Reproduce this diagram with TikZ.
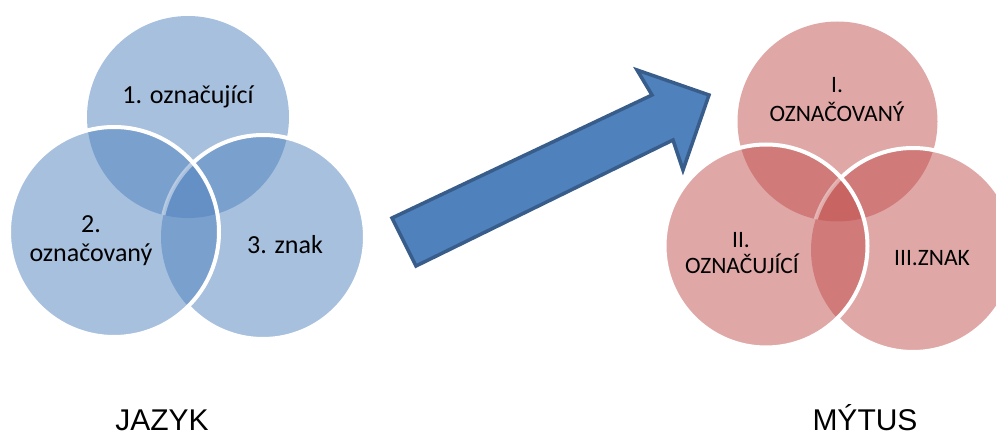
\documentclass[tikz,border=0pt]{standalone}
\usepackage{fontspec}
\setmainfont{Carlito}
\newfontfamily\arialfont{Liberation Sans}
\definecolor{venblue}{HTML}{4F81BD}
\definecolor{venred}{HTML}{C0504D}
\definecolor{arrowline}{HTML}{385D8A}
\begin{document}
\begin{tikzpicture}[x=1pt,y=-1pt,
  lbl/.style={font=\fontsize{26}{30}\selectfont, anchor=base, inner sep=0pt},
  lblr/.style={font=\fontsize{23.5}{28}\selectfont, anchor=base, inner sep=0pt},
  titletext/.style={font=\arialfont\fontsize{30}{34}\selectfont, anchor=base, inner sep=0pt},
  vfill/.style={fill=#1, fill opacity=0.5},
  wline/.style={draw=white, line width=4pt},
  bigarrow/.style={fill=venblue, draw=arrowline, line width=3.5pt, line join=miter}]
\useasboundingbox (0,0) rectangle (996,435);

% ---------- left Venn (JAZYK) ----------
\coordinate (bT) at (188,117);
\coordinate (bL) at (114,232);
\coordinate (bR) at (263,237);
\fill[vfill=venblue] (bT) circle[radius=101pt];
\fill[vfill=venblue] (bR) circle[radius=102pt];
\fill[vfill=venblue] (bL) circle[radius=105pt];
\begin{scope}[even odd rule]
  \clip (-10,-10) rectangle (1006,445) (bL) circle[radius=105pt];
  \draw[wline] (bR) circle[radius=102pt];
\end{scope}
\begin{scope}
  \clip (bT) circle[radius=101pt];
  \clip (bL) circle[radius=105pt];
  \draw[wline, draw opacity=0.45] (bR) circle[radius=102pt];
\end{scope}
\draw[wline] (bL) circle[radius=105pt];

\node[lbl] (b1) at (188,104) {1. označující};
\node[lbl] (b2a) at (91,233) {2.};
\node[lbl] (b2b) at (91,262) {označovaný};
\node[lbl] (b3) at (285,254) {3. znak};

% ---------- arrow ----------
\coordinate (a1) at (392,218);
\coordinate (a2) at (652,95);
\coordinate (a3) at (637,70);
\coordinate (a4) at (709,95);
\coordinate (a5) at (683,170);
\coordinate (a6) at (673,140);
\coordinate (a7) at (416,266);
\draw[bigarrow] (a1) -- (a2) -- (a3) -- (a4) -- (a5) -- (a6) -- (a7) -- cycle;

% ---------- right Venn (MYTUS) ----------
\coordinate (rT) at (837.5,121.5);
\coordinate (rL) at (766,246);
\coordinate (rR) at (913,250);
\fill[vfill=venred] (rT) circle[radius=100pt];
\fill[vfill=venred] (rR) circle[radius=102pt];
\fill[vfill=venred] (rL) circle[radius=101.5pt];
\begin{scope}[even odd rule]
  \clip (-10,-10) rectangle (1006,445) (rL) circle[radius=101.5pt];
  \draw[wline] (rR) circle[radius=102pt];
\end{scope}
\begin{scope}
  \clip (rT) circle[radius=100pt];
  \clip (rL) circle[radius=101.5pt];
  \draw[wline, draw opacity=0.45] (rR) circle[radius=102pt];
\end{scope}
\draw[wline] (rL) circle[radius=101.5pt];

\node[lblr] (r1a) at (837,93) {I.};
\node[lblr] (r1b) at (837,122) {OZNAČOVANÝ};
\node[lblr] (r2a) at (741,248) {II.};
\node[lblr] (r2b) at (742,274) {OZNAČUJÍCÍ};
\node[lblr] (r3) at (932,266) {III.ZNAK};

% ---------- titles ----------
\node[titletext] (jazyk) at (162,430) {JAZYK};
\node[titletext] (mytus) at (865,430) {MÝTUS};
\end{tikzpicture}
\end{document}
